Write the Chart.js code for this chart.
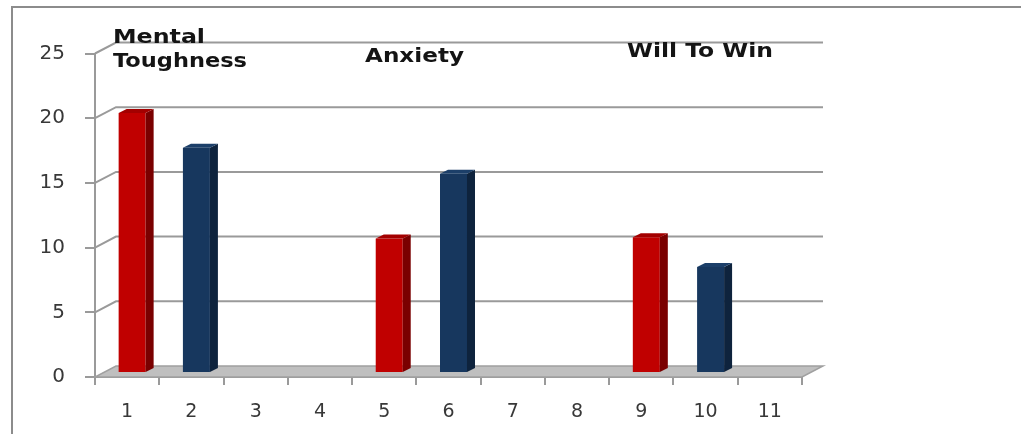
<!DOCTYPE html>
<html><head><meta charset="utf-8">
<script src="https://cdn.jsdelivr.net/npm/chart.js@4/dist/chart.umd.min.js"></script>
<style>html,body{margin:0;padding:0;background:#fff;overflow:hidden}canvas{display:block}</style>
</head><body>
<canvas id="c" width="1021" height="434"></canvas>
<script>
// ---- data ----
const categories = ['1','2','3','4','5','6','7','8','9','10','11'];
const series1 = [20.1, null, null, null, 10.4, null, null, null, 10.5, null, null];
const series2 = [null, 17.4, null, null, null, 15.4, null, null, null, 8.2, null];
const yTicks = [0, 5, 10, 15, 20, 25];
const noteMental = ['Mental', 'Toughness'];
const noteAnxiety = ['Anxiety'];
const noteWill = ['Will To Win'];

// ---- styling constants ----
const DX = 21, DY = -11;   // back wall offset
const BX = 5, BY = -4;     // bar offset into depth
const SX = 8, SY = -4;     // bar depth
const GRID = '#9a9a9a';
const FONT = 'DejaVu Sans';

const threeD = {
  id: 'threeD',
  beforeDatasetsDraw(chart) {
    const {ctx, chartArea: a, scales: {y}} = chart;
    ctx.save();
    ctx.strokeStyle = GRID; ctx.lineWidth = 2;
    yTicks.forEach(v => {
      if (v === 0) return;
      const py = y.getPixelForValue(v);
      ctx.beginPath();
      ctx.moveTo(a.left, py);
      ctx.lineTo(a.left + DX, py + DY);
      ctx.lineTo(a.right + DX, py + DY);
      ctx.stroke();
    });
    const p0 = y.getPixelForValue(0);
    ctx.beginPath();
    ctx.moveTo(a.left, p0); ctx.lineTo(a.right, p0);
    ctx.lineTo(a.right + DX, p0 + DY); ctx.lineTo(a.left + DX, p0 + DY);
    ctx.closePath();
    ctx.fillStyle = '#BFBFBF'; ctx.fill();
    ctx.strokeStyle = '#a0a0a0'; ctx.lineWidth = 1.5; ctx.stroke();
    ctx.restore();
    ctx.save();
    ctx.translate(BX, BY);
  },
  afterDatasetsDraw(chart) {
    const ctx = chart.ctx;
    chart.data.datasets.forEach((ds, i) => {
      const meta = chart.getDatasetMeta(i);
      meta.data.forEach((bar, j) => {
        if (ds.data[j] == null) return;
        const p = bar.getProps(['x', 'y', 'base', 'width'], true);
        const l = p.x - p.width / 2, r = p.x + p.width / 2;
        ctx.beginPath();
        ctx.moveTo(r, p.y); ctx.lineTo(r + SX, p.y + SY);
        ctx.lineTo(r + SX, p.base + SY); ctx.lineTo(r, p.base);
        ctx.closePath();
        ctx.fillStyle = ds.sideColor; ctx.fill();
        ctx.beginPath();
        ctx.moveTo(l, p.y); ctx.lineTo(l + SX, p.y + SY);
        ctx.lineTo(r + SX, p.y + SY); ctx.lineTo(r, p.y);
        ctx.closePath();
        ctx.fillStyle = ds.topColor; ctx.fill();
      });
    });
    ctx.restore();
  },
  afterDraw(chart) {
    const ctx = chart.ctx;
    ctx.save();
    // outer frame
    ctx.strokeStyle = '#8c8c8c'; ctx.lineWidth = 2;
    ctx.beginPath();
    ctx.moveTo(12, 434); ctx.lineTo(12, 7); ctx.lineTo(1021, 7);
    ctx.stroke();
    // annotations
    ctx.fillStyle = '#141414';
    ctx.font = 'bold 19px "' + FONT + '"';
    ctx.textBaseline = 'alphabetic';
    const put = (txt, x, yb, w) => {
      const m = ctx.measureText(txt).width;
      ctx.save(); ctx.translate(x, yb); ctx.scale(w / m, 1);
      ctx.fillText(txt, 0, 0); ctx.restore();
    };
    put(noteMental[0], 113, 43, 92);
    put(noteMental[1], 113, 67, 134);
    put(noteAnxiety[0], 365, 62, 99);
    put(noteWill[0], 627, 57, 146);
    ctx.restore();
  }
};

new Chart(document.getElementById('c'), {
  type: 'bar',
  data: {
    labels: categories,
    datasets: [
      {label: 'Series1', data: series1, backgroundColor: '#C00000', sideColor: '#7A0000', topColor: '#A30000'},
      {label: 'Series2', data: series2, backgroundColor: '#17375E', sideColor: '#0E233D', topColor: '#1C3F69'}
    ]
  },
  options: {
    responsive: false,
    animation: false,
    devicePixelRatio: 1,
    layout: {padding: {left: 0, top: 53.5, right: 219, bottom: 0}},
    datasets: {bar: {skipNull: true, categoryPercentage: 1, barPercentage: 0.42}},
    plugins: {legend: {display: false}, tooltip: {enabled: false}},
    scales: {
      x: {
        grid: {drawOnChartArea: false, tickLength: 8, color: GRID, lineWidth: 2, offset: true},
        border: {display: true, color: GRID, width: 2},
        ticks: {font: {family: FONT, size: 19}, color: '#383838', padding: 16, maxRotation: 0},
        afterFit: s => { s.height = 57; }
      },
      y: {
        min: 0, max: 25,
        grid: {drawOnChartArea: false, tickLength: 10, color: GRID, lineWidth: 2},
        border: {display: true, color: GRID, width: 2},
        ticks: {stepSize: 5, font: {family: FONT, size: 20}, color: '#383838', padding: 20},
        afterFit: s => { s.width = 95; }
      }
    }
  },
  plugins: [threeD]
});
</script>
</body></html>
